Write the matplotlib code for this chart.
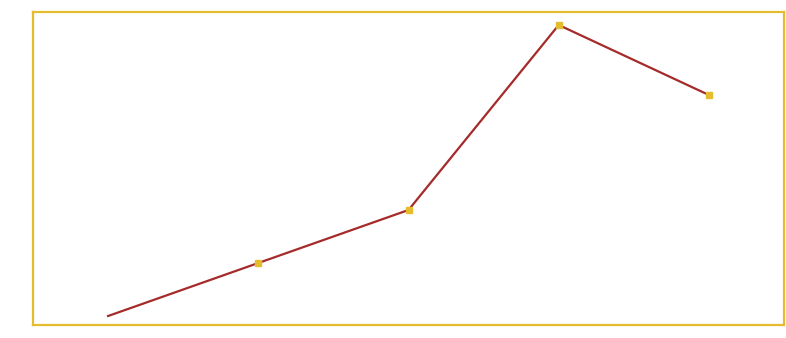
import matplotlib
matplotlib.use("Agg")
import matplotlib.pyplot as plt
import numpy as np

# values (no axis labels shown)
categories = ["A", "B", "C", "D", "E"]
values = [9, 62, 115, 300, 230]

LINE_COLOR = "#a52a2a"
GOLD = "#e6bc2f"

fig = plt.figure(figsize=(7.86, 3.38), dpi=100)
ax = fig.add_axes([33 / 786, 1 - 325 / 338, 751 / 786, 313 / 338])

x = np.arange(len(categories))
ax.plot(x, values, color=LINE_COLOR, linewidth=1.6, zorder=2)
# first point has no marker in the original
ax.plot(x[1:], values[1:], linestyle="none", marker="s", markersize=4.5,
        color=GOLD, zorder=3)

ax.set_xlim(-0.5, len(categories) - 0.5)
ax.set_ylim(0, 313)
ax.set_xticks([])
ax.set_yticks([])
for side in ax.spines.values():
    side.set_color(GOLD)
    side.set_linewidth(1.6)

fig.savefig("out.png", dpi=100)
